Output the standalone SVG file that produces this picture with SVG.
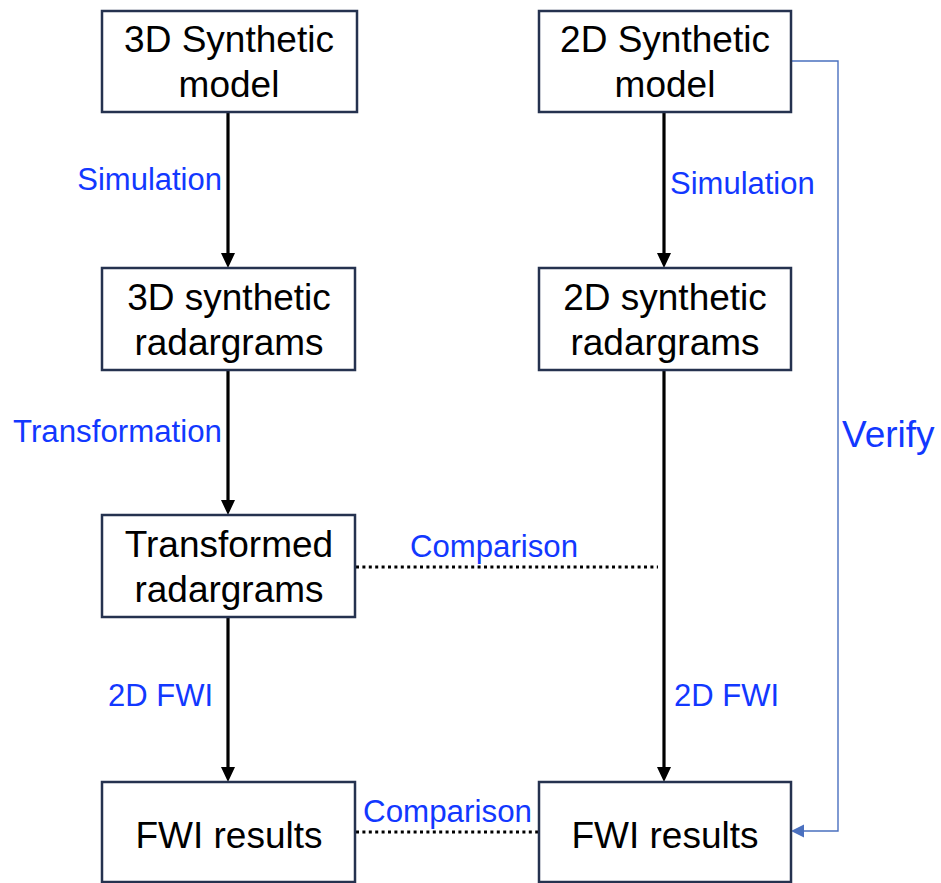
<svg xmlns="http://www.w3.org/2000/svg" width="941" height="883" viewBox="0 0 941 883">
<style>
.box{fill:#fff;stroke:#25324f;stroke-width:2.5}
.t{font-family:"Liberation Sans",Arial,sans-serif;font-size:37px;fill:#000;text-anchor:middle}
.lbl{font-family:"Liberation Sans",Arial,sans-serif;font-size:31px;fill:#1238ff}
.arr{stroke:#000;stroke-width:3.2;fill:none}
.dot{stroke:#000;stroke-width:3.2;fill:none;stroke-dasharray:3 3.4}
.ver{stroke:#4a70bf;stroke-width:1.4;fill:none}
</style>
<g id="connectors">
<line class="arr" x1="228" y1="113" x2="228" y2="254"/>
<path d="M221,253 L235,253 L228,268 Z" fill="#000"/>
<line class="arr" x1="228" y1="370" x2="228" y2="501"/>
<path d="M221,500 L235,500 L228,515 Z" fill="#000"/>
<line class="arr" x1="228" y1="617" x2="228" y2="768"/>
<path d="M221,767 L235,767 L228,782 Z" fill="#000"/>
<line class="arr" x1="664" y1="113" x2="664" y2="254"/>
<path d="M657,253 L671,253 L664,268 Z" fill="#000"/>
<line class="arr" x1="664" y1="370" x2="664" y2="768"/>
<path d="M657,767 L671,767 L664,782 Z" fill="#000"/>
<line class="dot" x1="356" y1="567" x2="658" y2="567"/>
<line class="dot" x1="356" y1="832" x2="540" y2="832"/>
<path class="ver" d="M791,61 H838 V831 H802"/>
<path d="M791,831 L804,824.5 L804,837.5 Z" fill="#4a70bf"/>
<text class="lbl" x="222" y="190" text-anchor="end">Simulation</text>
<text class="lbl" x="670" y="194">Simulation</text>
<text class="lbl" x="222" y="442" text-anchor="end" textLength="209" lengthAdjust="spacingAndGlyphs">Transformation</text>
<text class="lbl" x="410" y="557" textLength="168" lengthAdjust="spacingAndGlyphs">Comparison</text>
<text class="lbl" x="108" y="706">2D FWI</text>
<text class="lbl" x="674" y="706">2D FWI</text>
<text class="lbl" x="363" y="822" textLength="169" lengthAdjust="spacingAndGlyphs">Comparison</text>
<text class="lbl" x="842" y="447" style="font-size:37px">Verify</text>
</g>
<g id="n3dmodel">
<rect class="box" x="102" y="11" width="255" height="101"/>
<text class="t" x="229" y="52">3D Synthetic</text>
<text class="t" x="229" y="97">model</text>
</g>
<g id="n2dmodel">
<rect class="box" x="539" y="11" width="252" height="101"/>
<text class="t" x="665" y="52">2D Synthetic</text>
<text class="t" x="665" y="97">model</text>
</g>
<g id="n3drad">
<rect class="box" x="102" y="268" width="253" height="102"/>
<text class="t" x="229" y="310">3D synthetic</text>
<text class="t" x="229" y="355">radargrams</text>
</g>
<g id="n2drad">
<rect class="box" x="539" y="268" width="252" height="102"/>
<text class="t" x="665" y="310">2D synthetic</text>
<text class="t" x="665" y="355">radargrams</text>
</g>
<g id="ntrans">
<rect class="box" x="102" y="515" width="253" height="102"/>
<text class="t" x="229" y="557">Transformed</text>
<text class="t" x="229" y="602">radargrams</text>
</g>
<g id="nfwi1">
<rect class="box" x="102" y="782" width="253" height="100"/>
<text class="t" x="229" y="848">FWI results</text>
</g>
<g id="nfwi2">
<rect class="box" x="539" y="782" width="252" height="100"/>
<text class="t" x="665" y="848">FWI results</text>
</g>
</svg>
